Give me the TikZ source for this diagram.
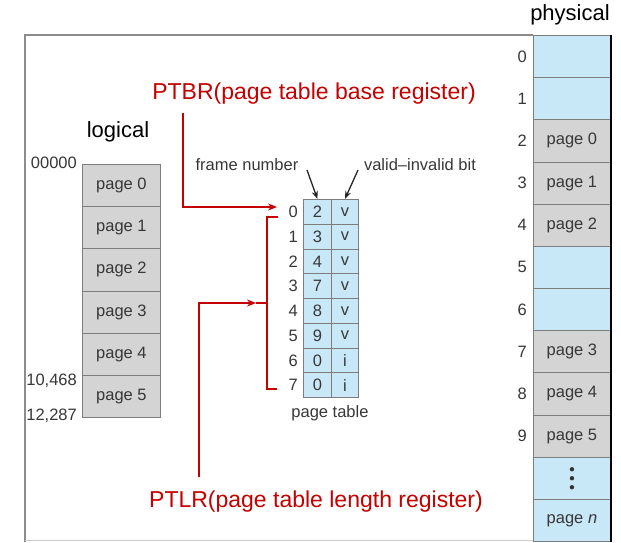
\documentclass[tikz,border=0pt]{standalone}
\usepackage{fontspec}
\setmainfont{Liberation Sans}
\usetikzlibrary{arrows.meta}
\definecolor{cellblue}{RGB}{200,232,248}
\definecolor{cellgray}{RGB}{212,212,212}
\definecolor{cellline}{RGB}{125,125,125}
\definecolor{txtgray}{RGB}{55,55,55}
\definecolor{regred}{RGB}{196,0,0}
\tikzset{
  memcell/.style={draw=cellline, line width=0.9pt, minimum width=77pt, minimum height=42.17pt, inner sep=0pt, font=\fontsize{16.5}{18}\selectfont, text=txtgray},
  usedcell/.style={memcell, fill=cellgray},
  freecell/.style={memcell, fill=cellblue},
  ptcell/.style={draw=cellline, line width=0.9pt, fill=cellblue, minimum height=24.75pt, inner sep=0pt, font=\fontsize{16.5}{18}\selectfont, text=txtgray},
  smalllabel/.style={font=\fontsize{16.5}{18}\selectfont, text=txtgray, inner sep=0pt},
  biglabel/.style={font=\fontsize{22}{24}\selectfont, text=black, inner sep=0pt},
  reglabel/.style={font=\fontsize{23}{26}\selectfont, text=regred, inner sep=0pt},
  regarrow/.style={draw=regred, line width=1.8pt, -{Stealth[length=9pt,width=7pt]}},
  bracketline/.style={draw=regred, line width=1.2pt},
  blackarrow/.style={draw=black!85, line width=1.3pt, -{Stealth[length=8pt,width=6pt]}}
}
\begin{document}
\begin{tikzpicture}[x=1pt,y=-1pt]
\useasboundingbox (0,0) rectangle (621,542);

% outer frame
\draw[draw=gray!90, line width=1.8pt] (533,35) -- (25,35) -- (25,542);
\draw[draw=gray!40, line width=1pt] (25,540) -- (533,540);

% physical memory
\node[biglabel] (physlabel) at (570,15) {physical};
\foreach \i/\kind/\txt in {0/freecell/{},1/freecell/{},2/usedcell/page 0,3/usedcell/page 1,4/usedcell/page 2,5/freecell/{},6/freecell/{},7/usedcell/page 3,8/usedcell/page 4,9/usedcell/page 5,10/freecell/{},11/freecell/{page \textit{n}}}{
  \node[\kind, anchor=north west] (f\i) at (533,35+42.17*\i) {\txt};
}
\foreach \i in {0,...,9}{
  \node[smalllabel, anchor=east] (fn\i) at ([xshift=-6pt]f\i.west) {\i};
}
\foreach \d in {-9,0,9}{
  \fill[black!80] ([yshift=\d pt]f10.center) circle (2.2pt);
}
\draw[black, line width=2pt] (f0.north east) -- (f11.south east);

% logical memory
\node[biglabel] (loglabel) at (118,132) {logical};
\foreach \i in {0,...,5}{
  \node[usedcell, minimum width=78pt, anchor=north west] (p\i) at (82,164+42.17*\i) {page \i};
}
\node[smalllabel, anchor=east] (a0) at (77,163) {00000};
\node[smalllabel, anchor=east] (a1) at (77,381) {10,468};
\node[smalllabel, anchor=east] (a2) at (77,416) {12,287};

% page table
\foreach \i/\fr/\vb in {0/2/v,1/3/v,2/4/v,3/7/v,4/8/v,5/9/v,6/0/i,7/0/i}{
  \node[ptcell, minimum width=28pt, anchor=north west] (t\i) at (303,199+24.75*\i) {\fr};
  \node[ptcell, minimum width=27pt, anchor=north west] (v\i) at (331,199+24.75*\i) {\vb};
  \node[smalllabel, anchor=east] (r\i) at ([xshift=-5pt]t\i.west) {\i};
}
\node[smalllabel] (ptlabel) at (330,413) {page table};
\node[smalllabel] (fnlabel) at (247,165) {frame number};
\node[smalllabel] (vblabel) at (420,165) {valid–invalid bit};
\coordinate (fnstart) at (307,170);
\coordinate (vbstart) at (358,170);
\draw[blackarrow] (fnstart) -- (t0.north);
\draw[blackarrow] (vbstart) -- (v0.north);

% registers
\node[reglabel] (ptbr) at (314,94) {PTBR(page table base register)};
\node[reglabel] (ptlr) at (316,502) {PTLR(page table length register)};

\coordinate (ptbrtop) at (183,113);
\coordinate (ptbrend) at (277,207);
\draw[regarrow] (ptbrtop) |- (ptbrend);

% bracket over the table length
\coordinate (brtop) at (278,217);
\coordinate (brbot) at (277,389);
\coordinate (brtip) at (256,303);
\draw[bracketline] (brtop) -- (267,217) -- (267,389) -- (brbot);
\draw[bracketline] (267,303) -- (brtip);

\coordinate (ptlrtop) at (199,477);
\draw[regarrow] (ptlrtop) |- (brtip);
\end{tikzpicture}
\end{document}
